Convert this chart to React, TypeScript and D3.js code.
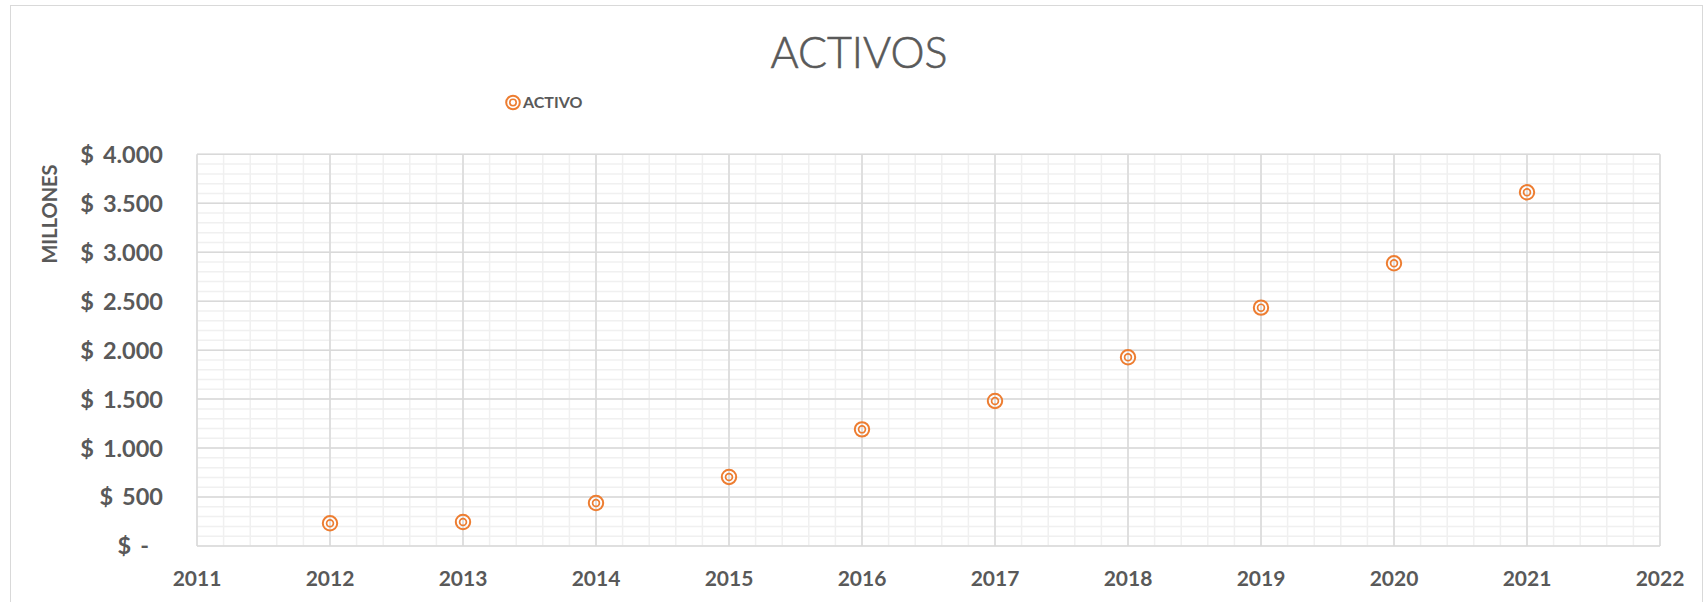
import * as d3 from "d3";

const years = [2012, 2013, 2014, 2015, 2016, 2017, 2018, 2019, 2020, 2021];
const activo = [232, 245, 439, 705, 1191, 1481, 1927, 2434, 2887, 3612];
const yTicks = [0, 500, 1000, 1500, 2000, 2500, 3000, 3500, 4000];
const xTicks = [2011, 2012, 2013, 2014, 2015, 2016, 2017, 2018, 2019, 2020, 2021, 2022];

const W = 1708;
const H = 602;
const ORANGE = "#ED7D31";
const TEXT = "#595959";

const es = d3.formatLocale({
  decimal: ",",
  thousands: ".",
  grouping: [3],
  currency: ["$", ""],
});
const fmt = es.format(",d");

export default function App() {
  const x = d3.scaleLinear().domain([2011, 2022]).range([197, 1660]);
  const y = d3.scaleLinear().domain([0, 4000]).range([546, 154.3]);

  const minorX = d3.range(2011, 2022.001, 0.2);
  const minorY = d3.range(0, 4000.001, 100);

  return (
    <div style={{ position: "absolute", left: 0, top: 0 }}>
      <svg width={W} height={H} style={{ display: "block" }}>
        <rect x={0} y={0} width={W} height={H} fill="#fff" />
        <rect x={10.5} y={5.5} width={1692} height={620} fill="none" stroke="#d9d9d9" strokeWidth={1} />

        <text
          x={859}
          y={67.5}
          textAnchor="middle"
          fontFamily="Lato"
          fontWeight={300}
          fontSize={43}
          fill={TEXT}
          stroke={TEXT}
          strokeWidth={0.6}
        >
          ACTIVOS
        </text>

        {/* legend */}
        <g transform="translate(513,102.5)">
          <circle r={6.8} fill="none" stroke={ORANGE} strokeWidth={2} />
          <circle r={3.2} fill="none" stroke={ORANGE} strokeWidth={1.6} />
          <text x={10} y={5.8} fontFamily="Lato" fontWeight={700} fontSize={16} fill={TEXT}>
            ACTIVO
          </text>
        </g>

        {/* minor grid */}
        <g stroke="#f0f0f0" strokeWidth={1.5}>
          {minorY.map((v) => (
            <line key={"my" + v} x1={x(2011)} x2={x(2022)} y1={y(v)} y2={y(v)} />
          ))}
          {minorX.map((v) => (
            <line key={"mx" + v} x1={x(v)} x2={x(v)} y1={y(0)} y2={y(4000)} />
          ))}
        </g>
        {/* major grid */}
        <g stroke="#d9d9d9" strokeWidth={1.5}>
          {yTicks.map((v) => (
            <line key={"y" + v} x1={x(2011)} x2={x(2022)} y1={y(v)} y2={y(v)} />
          ))}
          {xTicks.map((v) => (
            <line key={"x" + v} x1={x(v)} x2={x(v)} y1={y(0)} y2={y(4000)} />
          ))}
        </g>

        {/* y tick labels */}
        <g fontFamily="Lato" fontWeight={700} fontSize={23.5} fill={TEXT}>
          {yTicks.map((v) => (
            <text key={"yl" + v} x={v === 0 ? 149 : 163} y={y(v)} dy="0.36em" textAnchor="end">
              $<tspan dx={9}>{v === 0 ? "-" : fmt(v)}</tspan>
            </text>
          ))}
        </g>

        {/* x tick labels */}
        <g fontFamily="Lato" fontWeight={700} fontSize={21} fill={TEXT}>
          {xTicks.map((v) => (
            <text key={"xl" + v} x={x(v)} y={586} textAnchor="middle">
              {v}
            </text>
          ))}
        </g>

        <text
          transform="translate(57,214) rotate(-90)"
          textAnchor="middle"
          fontFamily="Lato"
          fontWeight={700}
          fontSize={20}
          fill={TEXT}
        >
          MILLONES
        </text>

        {/* points */}
        <g fill="none" stroke={ORANGE}>
          {years.map((yr, i) => (
            <g key={yr} transform={`translate(${x(yr)},${y(activo[i])})`}>
              <circle r={7.2} strokeWidth={2} />
              <circle r={3.4} strokeWidth={1.7} />
            </g>
          ))}
        </g>
      </svg>
    </div>
  );
}
